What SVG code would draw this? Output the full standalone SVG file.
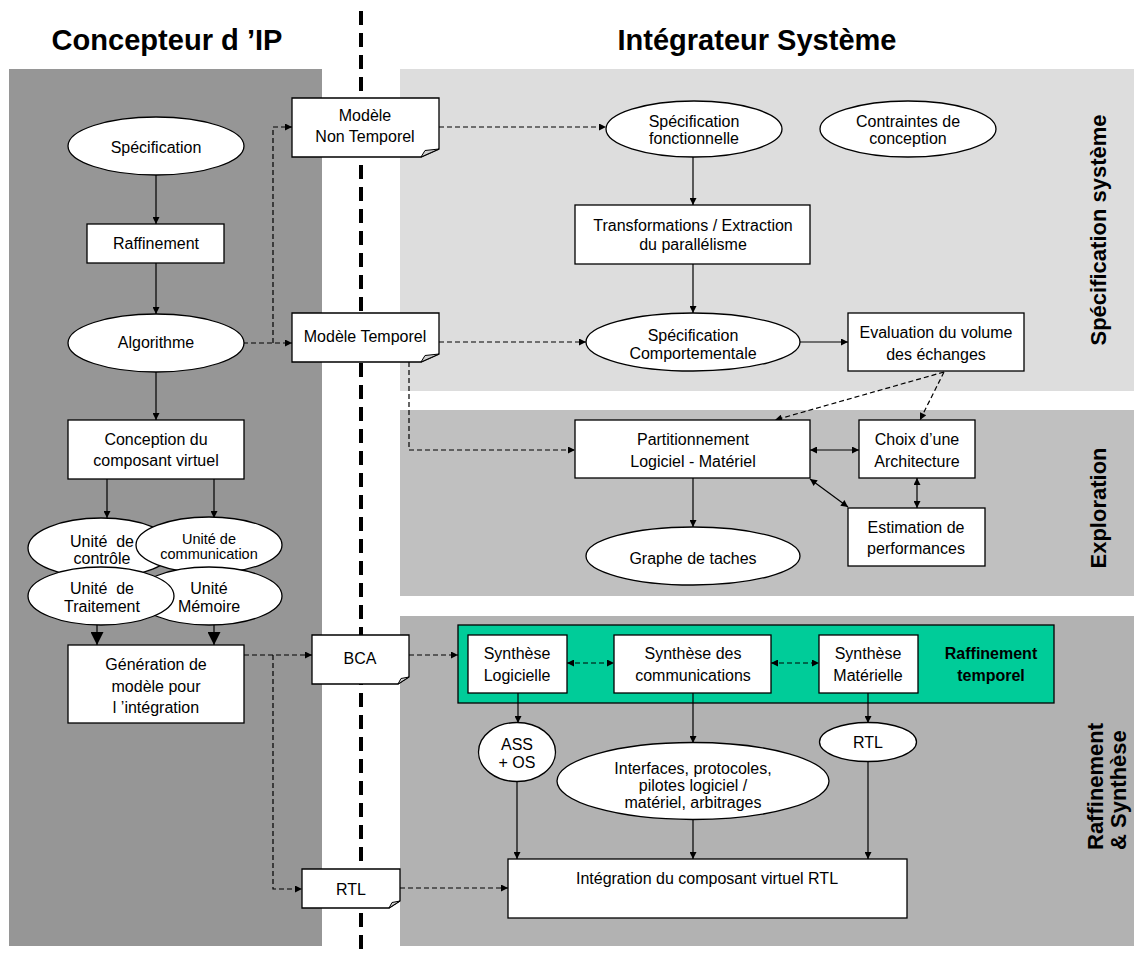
<svg xmlns="http://www.w3.org/2000/svg" width="1134" height="954" viewBox="0 0 1134 954">
  <style>
    text { font-family: "Liberation Sans", Arial, sans-serif; fill: #000; }
    .t { font-size: 16px; text-anchor: middle; }
    .ts { font-size: 14.5px; text-anchor: middle; }
    .tb { font-size: 16px; font-weight: bold; text-anchor: middle; }
    .title { font-size: 30px; font-weight: bold; text-anchor: middle; }
    .side { font-size: 22px; font-weight: bold; }
    .box { fill: #fff; stroke: #000; stroke-width: 1.3; }
    .fold { fill: #d0d0d0; stroke: #000; stroke-width: 1; }
    .ln { fill: none; stroke: #000; stroke-width: 1.2; }
    .dash { fill: none; stroke: #000; stroke-width: 1.2; stroke-dasharray: 5 3; }
  </style>
  <defs>
    <marker id="ah" viewBox="0 0 10 10" refX="10" refY="5" markerWidth="9" markerHeight="7" markerUnits="userSpaceOnUse" orient="auto-start-reverse">
      <path d="M0,0 L10,5 L0,10 Z" fill="#000"/>
    </marker>
    <marker id="ahBig" viewBox="0 0 10 10" refX="10" refY="5" markerWidth="14" markerHeight="13" markerUnits="userSpaceOnUse" orient="auto">
      <path d="M0,0 L10,5 L0,10 Z" fill="#000"/>
    </marker>
  </defs>

  <rect width="1134" height="954" fill="#fff"/>

  <!-- swimlane backgrounds -->
  <g id="lanes">
    <rect x="9" y="69" width="313" height="877" fill="#969696"/>
    <rect x="400" y="69" width="734" height="322" fill="#dddddd"/>
    <rect x="400" y="410" width="734" height="186" fill="#c0c0c0"/>
    <rect x="400" y="616" width="734" height="330" fill="#b2b2b2"/>
  </g>

  <!-- role separator -->
  <line id="separator" x1="361" y1="11" x2="361" y2="954" stroke="#000" stroke-width="4" stroke-dasharray="14 8"/>

  <!-- headings -->
  <g id="headings">
    <text class="title" x="167" y="50" textLength="231" lengthAdjust="spacingAndGlyphs">Concepteur d ’IP</text>
    <text class="title" x="757" y="50" textLength="279" lengthAdjust="spacingAndGlyphs">Intégrateur Système</text>
    <text class="side" transform="translate(1106,230) rotate(-90)" text-anchor="middle">Spécification système</text>
    <text class="side" transform="translate(1106,508) rotate(-90)" text-anchor="middle">Exploration</text>
    <text class="side" transform="translate(1103,850) rotate(-90)">Raffinement</text>
    <text class="side" transform="translate(1126,850) rotate(-90)">&amp; Synthèse</text>
  </g>

  <!-- green refinement band -->
  <rect id="raffinement-temporel" x="458" y="625" width="596" height="78" fill="#00cc99" stroke="#000" stroke-width="1.3"/>

  <!-- connectors -->
  <g id="connectors">
    <path class="ln" d="M156,175 V224" marker-end="url(#ah)"/>
    <path class="ln" d="M156,263 V314" marker-end="url(#ah)"/>
    <path class="ln" d="M156,371 V420" marker-end="url(#ah)"/>
    <path class="ln" d="M107,479 V518" marker-end="url(#ah)"/>
    <path class="ln" d="M214,479 V518" marker-end="url(#ah)"/>
    <path class="ln" d="M97,624 V645" marker-end="url(#ahBig)"/>
    <path class="ln" d="M214,624 V645" marker-end="url(#ahBig)"/>

    <path class="dash" d="M243,343 H292" marker-end="url(#ah)"/>
    <path class="dash" d="M273,343 V127 H292" marker-end="url(#ah)"/>
    <path class="dash" d="M439,127 H606" marker-end="url(#ah)"/>
    <path class="dash" d="M439,342 H586" marker-end="url(#ah)"/>
    <path class="dash" d="M409,362 V450 H575" marker-end="url(#ah)"/>
    <path class="dash" d="M244,655 H312" marker-end="url(#ah)"/>
    <path class="dash" d="M273,655 V889 H302" marker-end="url(#ah)"/>
    <path class="dash" d="M409,655 H458" marker-end="url(#ah)"/>
    <path class="dash" d="M400,888 H508" marker-end="url(#ah)"/>

    <path class="ln" d="M693,157 V205" marker-end="url(#ah)"/>
    <path class="ln" d="M693,264 V313" marker-end="url(#ah)"/>
    <path class="ln" d="M800,342 H848" marker-end="url(#ah)"/>
    <path class="dash" d="M944,372 L775,420" marker-end="url(#ah)"/>
    <path class="dash" d="M944,372 L920,420" marker-end="url(#ah)"/>
    <path class="ln" d="M810,450 H859" marker-start="url(#ah)" marker-end="url(#ah)"/>
    <path class="ln" d="M810,479 L848,507" marker-start="url(#ah)" marker-end="url(#ah)"/>
    <path class="ln" d="M917,478 V508" marker-start="url(#ah)" marker-end="url(#ah)"/>
    <path class="ln" d="M693,478 V527" marker-end="url(#ah)"/>

    <path class="dash" d="M567,663 H614" marker-start="url(#ah)" marker-end="url(#ah)"/>
    <path class="dash" d="M771,663 H819" marker-start="url(#ah)" marker-end="url(#ah)"/>
    <path class="ln" d="M518,693 V723" marker-end="url(#ah)"/>
    <path class="ln" d="M693,693 V743" marker-end="url(#ah)"/>
    <path class="ln" d="M868,693 V723" marker-end="url(#ah)"/>
    <path class="ln" d="M517,782 V859" marker-end="url(#ah)"/>
    <path class="ln" d="M693,820 V859" marker-end="url(#ah)"/>
    <path class="ln" d="M868,762 V859" marker-end="url(#ah)"/>
  </g>

  <!-- IP designer side -->
  <g id="specification">
    <ellipse class="box" cx="156" cy="146" rx="88" ry="29"/>
    <text class="t" x="156" y="153">Spécification</text>
  </g>
  <g id="raffinement">
    <rect class="box" x="87" y="224" width="137" height="39"/>
    <text class="t" x="156" y="249">Raffinement</text>
  </g>
  <g id="algorithme">
    <ellipse class="box" cx="156" cy="343" rx="88" ry="29"/>
    <text class="t" x="156" y="348">Algorithme</text>
  </g>
  <g id="conception">
    <rect class="box" x="68" y="420" width="176" height="59"/>
    <text class="t" x="156" y="445">Conception du</text>
    <text class="t" x="156" y="466">composant virtuel</text>
  </g>
  <g id="unite-controle">
    <ellipse class="box" cx="101" cy="548" rx="73" ry="30"/>
    <text class="t" x="102" y="547">Unité&#160; de</text>
    <text class="t" x="102" y="564">contrôle</text>
  </g>
  <g id="unite-communication">
    <ellipse class="box" cx="209" cy="545" rx="73" ry="28"/>
    <text class="ts" x="209" y="544">Unité de</text>
    <text class="ts" x="209" y="559">communication</text>
  </g>
  <g id="unite-memoire">
    <ellipse class="box" cx="209" cy="596" rx="73" ry="29"/>
    <text class="t" x="209" y="594">Unité</text>
    <text class="t" x="209" y="612">Mémoire</text>
  </g>
  <g id="unite-traitement">
    <ellipse class="box" cx="101" cy="596" rx="73" ry="29"/>
    <text class="t" x="102" y="594">Unité&#160; de</text>
    <text class="t" x="102" y="612">Traitement</text>
  </g>
  <g id="generation">
    <rect class="box" x="68" y="645" width="176" height="78"/>
    <text class="t" x="156" y="670">Génération de</text>
    <text class="t" x="156" y="692">modèle pour</text>
    <text class="t" x="156" y="713">l ’intégration</text>
  </g>

  <!-- exchanged models (documents) -->
  <g id="modele-non-temporel">
    <path class="box" d="M292,98 H439 V149 L421,157 H292 Z"/>
    <path class="fold" d="M421,157 L425,150.5 L439,149 Z"/>
    <text class="t" x="365" y="121">Modèle</text>
    <text class="t" x="365" y="142">Non Temporel</text>
  </g>
  <g id="modele-temporel">
    <path class="box" d="M292,313 H439 V354 L421,362 H292 Z"/>
    <path class="fold" d="M421,362 L425,355.5 L439,354 Z"/>
    <text class="t" x="365" y="342">Modèle Temporel</text>
  </g>
  <g id="bca">
    <path class="box" d="M312,635 H409 V677 L398,684 H312 Z"/>
    <path class="fold" d="M398,684 L401,678.5 L409,677 Z"/>
    <text class="t" x="360" y="664">BCA</text>
  </g>
  <g id="rtl-doc">
    <path class="box" d="M302,869 H400 V901 L389,908 H302 Z"/>
    <path class="fold" d="M389,908 L392,902.5 L400,901 Z"/>
    <text class="t" x="351" y="895">RTL</text>
  </g>

  <!-- system specification -->
  <g id="specification-fonctionnelle">
    <ellipse class="box" cx="694" cy="129" rx="88" ry="28"/>
    <text class="t" x="694" y="127">Spécification</text>
    <text class="t" x="694" y="144">fonctionnelle</text>
  </g>
  <g id="contraintes">
    <ellipse class="box" cx="908" cy="129" rx="88" ry="28"/>
    <text class="t" x="908" y="127">Contraintes de</text>
    <text class="t" x="908" y="144">conception</text>
  </g>
  <g id="transformations">
    <rect class="box" x="575" y="205" width="235" height="59"/>
    <text class="t" x="693" y="231">Transformations / Extraction</text>
    <text class="t" x="693" y="250">du parallélisme</text>
  </g>
  <g id="specification-comportementale">
    <ellipse class="box" cx="693" cy="342" rx="107" ry="29"/>
    <text class="t" x="693" y="341">Spécification</text>
    <text class="t" x="693" y="359">Comportementale</text>
  </g>
  <g id="evaluation">
    <rect class="box" x="848" y="313" width="176" height="58"/>
    <text class="t" x="936" y="338">Evaluation du volume</text>
    <text class="t" x="936" y="360">des échanges</text>
  </g>

  <!-- exploration -->
  <g id="partitionnement">
    <rect class="box" x="575" y="420" width="235" height="58"/>
    <text class="t" x="693" y="445">Partitionnement</text>
    <text class="t" x="693" y="467">Logiciel - Matériel</text>
  </g>
  <g id="choix-architecture">
    <rect class="box" x="859" y="420" width="116" height="58"/>
    <text class="t" x="917" y="445">Choix d’une</text>
    <text class="t" x="917" y="467">Architecture</text>
  </g>
  <g id="estimation">
    <rect class="box" x="848" y="508" width="137" height="58"/>
    <text class="t" x="916" y="533">Estimation de</text>
    <text class="t" x="916" y="554">performances</text>
  </g>
  <g id="graphe-taches">
    <ellipse class="box" cx="693" cy="556" rx="107" ry="29"/>
    <text class="t" x="693" y="564">Graphe de taches</text>
  </g>

  <!-- refinement and synthesis -->
  <g id="synthese-logicielle">
    <rect class="box" x="468" y="635" width="99" height="58"/>
    <text class="t" x="517" y="659">Synthèse</text>
    <text class="t" x="517" y="681">Logicielle</text>
  </g>
  <g id="synthese-communications">
    <rect class="box" x="614" y="635" width="157" height="58"/>
    <text class="t" x="693" y="659">Synthèse des</text>
    <text class="t" x="693" y="681">communications</text>
  </g>
  <g id="synthese-materielle">
    <rect class="box" x="819" y="635" width="99" height="58"/>
    <text class="t" x="868" y="659">Synthèse</text>
    <text class="t" x="868" y="681">Matérielle</text>
  </g>
  <g id="raffinement-temporel-label">
    <text class="tb" x="991" y="659">Raffinement</text>
    <text class="tb" x="991" y="681">temporel</text>
  </g>
  <g id="ass-os">
    <ellipse class="box" cx="517" cy="752" rx="38.5" ry="29.5"/>
    <text class="t" x="517" y="750">ASS</text>
    <text class="t" x="517" y="768">+ OS</text>
  </g>
  <g id="interfaces">
    <ellipse class="box" cx="693" cy="781" rx="136" ry="38.5"/>
    <text class="t" x="693" y="774">Interfaces, protocoles,</text>
    <text class="t" x="693" y="791">pilotes logiciel /</text>
    <text class="t" x="693" y="808">matériel, arbitrages</text>
  </g>
  <g id="rtl-ellipse">
    <ellipse class="box" cx="868" cy="742" rx="48.5" ry="19.5"/>
    <text class="t" x="868" y="748">RTL</text>
  </g>
  <g id="integration">
    <rect class="box" x="508" y="859" width="399" height="59"/>
    <text class="t" x="707" y="884">Intégration du composant virtuel RTL</text>
  </g>
</svg>
